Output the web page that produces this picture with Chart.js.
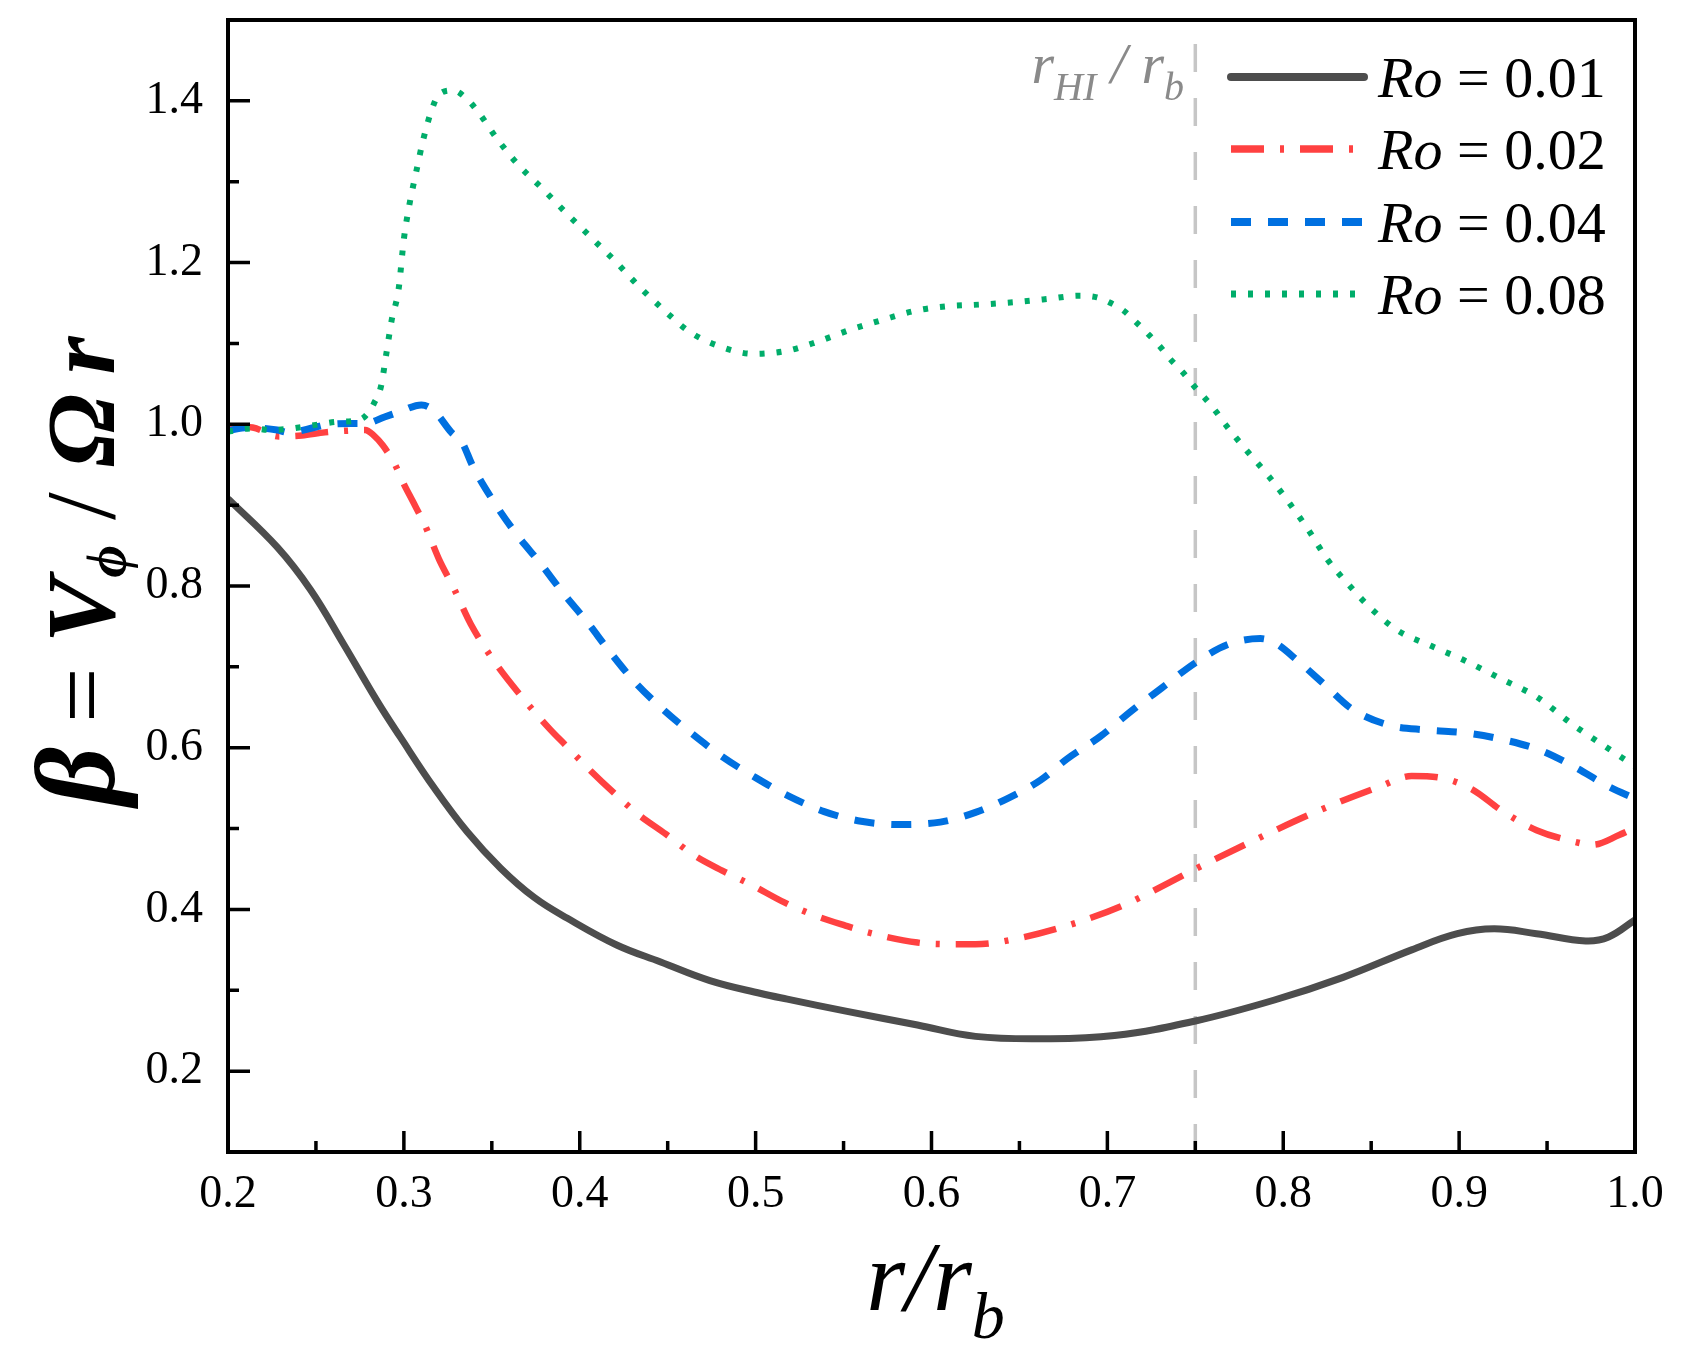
<!DOCTYPE html>
<html>
<head>
<meta charset="utf-8">
<script src="https://cdn.jsdelivr.net/npm/chart.js@4.4.1/dist/chart.umd.min.js"></script>
<style>
  html, body { margin: 0; padding: 0; background: #fff; }
  #wrap { width: 1683px; height: 1359px; }
</style>
</head>
<body>
<div id="wrap"><canvas id="beta"></canvas></div>
<script>
// r / r_b and beta, one pair of arrays per Rossby number
const r001 = [0.2, 0.228, 0.247, 0.266, 0.285, 0.298, 0.317, 0.336, 0.355, 0.374, 0.393, 0.421, 0.446, 0.474, 0.503, 0.518, 0.552, 0.592, 0.625, 0.664, 0.704, 0.75, 0.795, 0.834, 0.873, 0.899, 0.92, 0.944, 0.972, 0.985, 1.0];
const beta001 = [0.908, 0.848, 0.795, 0.727, 0.657, 0.613, 0.551, 0.496, 0.451, 0.415, 0.389, 0.356, 0.335, 0.312, 0.296, 0.289, 0.274, 0.257, 0.243, 0.240, 0.244, 0.262, 0.288, 0.316, 0.350, 0.370, 0.376, 0.370, 0.361, 0.366, 0.387];

const r002 = [0.2, 0.214, 0.229, 0.242, 0.255, 0.267, 0.278, 0.283, 0.288, 0.295, 0.3, 0.305, 0.312, 0.32, 0.328, 0.338, 0.351, 0.367, 0.383, 0.392, 0.405, 0.419, 0.433, 0.449, 0.465, 0.481, 0.498, 0.516, 0.533, 0.551, 0.565, 0.592, 0.612, 0.625, 0.651, 0.683, 0.711, 0.75, 0.782, 0.821, 0.855, 0.873, 0.889, 0.907, 0.925, 0.944, 0.965, 0.976, 0.991, 1.0];
const beta002 = [0.998, 0.996, 0.985, 0.986, 0.990, 0.992, 0.993, 0.986, 0.974, 0.950, 0.926, 0.905, 0.875, 0.833, 0.799, 0.753, 0.708, 0.663, 0.623, 0.603, 0.574, 0.545, 0.518, 0.493, 0.467, 0.448, 0.430, 0.409, 0.393, 0.380, 0.371, 0.359, 0.357, 0.357, 0.365, 0.384, 0.407, 0.450, 0.484, 0.523, 0.552, 0.565, 0.563, 0.549, 0.521, 0.498, 0.484, 0.480, 0.492, 0.501];

const r004 = [0.2, 0.211, 0.228, 0.234, 0.249, 0.255, 0.27, 0.278, 0.289, 0.297, 0.31, 0.317, 0.327, 0.333, 0.339, 0.35, 0.363, 0.378, 0.391, 0.404, 0.417, 0.431, 0.447, 0.464, 0.481, 0.5, 0.518, 0.539, 0.56, 0.581, 0.605, 0.625, 0.644, 0.662, 0.677, 0.696, 0.714, 0.731, 0.75, 0.769, 0.787, 0.795, 0.808, 0.824, 0.839, 0.86, 0.881, 0.905, 0.925, 0.946, 0.965, 0.985, 1.0];
const beta004 = [0.992, 0.996, 0.993, 0.990, 0.996, 0.999, 1.001, 1.001, 1.009, 1.015, 1.024, 1.017, 0.990, 0.978, 0.949, 0.908, 0.867, 0.827, 0.790, 0.756, 0.719, 0.682, 0.648, 0.617, 0.589, 0.563, 0.541, 0.521, 0.509, 0.505, 0.508, 0.520, 0.538, 0.560, 0.586, 0.614, 0.646, 0.674, 0.705, 0.728, 0.735, 0.730, 0.708, 0.677, 0.648, 0.628, 0.622, 0.618, 0.610, 0.597, 0.577, 0.552, 0.537];

const r008 = [0.2, 0.214, 0.224, 0.233, 0.243, 0.252, 0.262, 0.271, 0.278, 0.283, 0.287, 0.29, 0.293, 0.297, 0.3, 0.303, 0.307, 0.311, 0.316, 0.32, 0.328, 0.335, 0.342, 0.353, 0.365, 0.379, 0.392, 0.406, 0.42, 0.433, 0.447, 0.462, 0.48, 0.499, 0.518, 0.535, 0.554, 0.572, 0.59, 0.609, 0.627, 0.647, 0.666, 0.684, 0.694, 0.701, 0.709, 0.716, 0.723, 0.73, 0.736, 0.743, 0.749, 0.756, 0.762, 0.767, 0.779, 0.792, 0.804, 0.815, 0.825, 0.837, 0.85, 0.865, 0.884, 0.902, 0.925, 0.944, 0.965, 0.982, 1.0];
const beta008 = [0.991, 0.995, 0.993, 0.994, 0.997, 1.000, 1.003, 1.004, 1.010, 1.026, 1.047, 1.087, 1.128, 1.167, 1.229, 1.270, 1.312, 1.352, 1.390, 1.408, 1.413, 1.404, 1.387, 1.353, 1.321, 1.291, 1.262, 1.232, 1.202, 1.172, 1.143, 1.115, 1.096, 1.087, 1.091, 1.102, 1.117, 1.129, 1.140, 1.146, 1.148, 1.151, 1.155, 1.159, 1.157, 1.151, 1.141, 1.127, 1.112, 1.096, 1.080, 1.064, 1.048, 1.031, 1.015, 1.000, 0.968, 0.935, 0.901, 0.867, 0.833, 0.802, 0.772, 0.745, 0.726, 0.709, 0.684, 0.663, 0.628, 0.603, 0.577];

const roLabels = ["0.01", "0.02", "0.04", "0.08"];
const rHI = 0.75;

const xRange = [0.2, 1.0];
const yRange = [0.1, 1.5];
const xTickVals = [0.2, 0.3, 0.4, 0.5, 0.6, 0.7, 0.8, 0.9, 1.0];
const xMinorVals = [0.25, 0.35, 0.45, 0.55, 0.65, 0.75, 0.85, 0.95];
const yTickVals = [0.2, 0.4, 0.6, 0.8, 1.0, 1.2, 1.4];
const yMinorVals = [0.3, 0.5, 0.7, 0.9, 1.1, 1.3];

const SERIF = '"Liberation Serif", "Times New Roman", serif';

const pts = (xs, ys) => xs.map((x, i) => ({ x: x, y: ys[i] }));

const curve = (label, xs, ys, color, width, dash, order, mode) => ({
  label: label,
  data: pts(xs, ys),
  borderColor: color,
  borderWidth: width,
  borderDash: dash,
  pointRadius: 0,
  fill: false,
  cubicInterpolationMode: mode || "monotone",
  tension: 0.4,
  order: order,
});

// inside ticks, frame, titles and the legend are drawn by hand
const decor = {
  id: "decor",
  afterDatasetsDraw(chart) {
    const { ctx, chartArea: a, scales: { x, y } } = chart;
    ctx.save();
    ctx.setLineDash([]);
    ctx.strokeStyle = "#000";
    ctx.lineWidth = 3.5;
    ctx.beginPath();
    xTickVals.concat(xMinorVals).forEach((v) => {
      const len = xTickVals.includes(v) ? 21 : 11;
      const px = x.getPixelForValue(v);
      ctx.moveTo(px, a.bottom);
      ctx.lineTo(px, a.bottom - len);
    });
    yTickVals.concat(yMinorVals).forEach((v) => {
      const len = yTickVals.includes(v) ? 22 : 11;
      const py = y.getPixelForValue(v);
      ctx.moveTo(a.left, py);
      ctx.lineTo(a.left + len, py);
    });
    ctx.stroke();
    ctx.lineWidth = 4;
    ctx.strokeRect(a.left, a.top, a.right - a.left, a.bottom - a.top);
    ctx.restore();
  },
  afterDraw(chart) {
    const { ctx, chartArea: a } = chart;

    // draws a list of [text, font, dy] pieces starting at (x0, y0)
    const runs = (list, x0, y0, align) => {
      let w = 0;
      list.forEach((p) => { ctx.font = p[1]; w += ctx.measureText(p[0]).width; });
      let cx = align === "center" ? x0 - w / 2 : align === "right" ? x0 - w : x0;
      list.forEach((p) => {
        ctx.font = p[1];
        ctx.fillText(p[0], cx, y0 + (p[2] || 0));
        cx += ctx.measureText(p[0]).width;
      });
    };

    ctx.save();
    ctx.textBaseline = "alphabetic";
    ctx.fillStyle = "#000";

    // x title  r/r_b
    runs([
      ["r/r", "italic 100px " + SERIF],
      ["b", "italic 66px " + SERIF, 28],
    ], (a.left + a.right) / 2 + 4, 1310, "center");

    // y title  beta = V_phi / Omega r
    ctx.save();
    ctx.translate(114, 571);
    ctx.rotate(-Math.PI / 2);
    const bi = "bold italic 98px " + SERIF;
    runs([
      ["\u03B2", "bold italic 114px " + SERIF],
      [" = ", "98px " + SERIF],
      ["V", bi],
      ["\u03D5", "bold italic 56px " + SERIF, 12],
      [" / ", "100px " + SERIF],
      ["\u03A9", bi],
      ["\u2009r", bi],
    ], 0, 0, "center");
    ctx.restore();

    // r_HI / r_b marker label
    ctx.fillStyle = "#8a8a8a";
    runs([
      ["r", "italic 58px " + SERIF],
      ["HI", "italic 40px " + SERIF, 17],
      [" / ", "italic 58px " + SERIF],
      ["r", "italic 58px " + SERIF],
      ["b", "italic 40px " + SERIF, 17],
    ], 1184, 83, "right");

    // legend
    const rowY = [77, 149, 222, 294];
    chart.data.datasets.slice(0, 4).forEach((ds, i) => {
      ctx.save();
      ctx.strokeStyle = ds.borderColor;
      ctx.lineWidth = ds.borderWidth + 1;
      ctx.setLineDash(ds.borderDash);
      ctx.lineCap = i === 0 ? "round" : "butt";
      ctx.beginPath();
      ctx.moveTo(1231, rowY[i]);
      ctx.lineTo(1364, rowY[i]);
      ctx.stroke();
      ctx.restore();
      ctx.fillStyle = "#000";
      runs([
        ["Ro", "italic 58px " + SERIF],
        [" = " + roLabels[i], "58px " + SERIF],
      ], 1378, rowY[i] + 20, "left");
    });
    ctx.restore();
  },
};

const ctx = document.getElementById("beta").getContext("2d");
const betaChart = new Chart(ctx, {
  type: "line",
  data: {
    datasets: [
      curve("Ro = 0.01", r001, beta001, "#4d4d4d", 7, [], 3, "default"),
      curve("Ro = 0.02", r002, beta002, "#ff4141", 6.5, [33, 16, 4, 16], 2),
      curve("Ro = 0.04", r004, beta004, "#0070e0", 7, [20, 17], 1),
      curve("Ro = 0.08", r008, beta008, "#00ad6a", 6, [5, 12], 0),
      {
        label: "r_HI / r_b",
        data: [{ x: rHI, y: yRange[0] }, { x: rHI, y: yRange[1] - 0.02 }],
        borderColor: "#c6c6c6",
        borderWidth: 3.5,
        borderDash: [28, 26],
        pointRadius: 0,
        order: 4,
      },
    ],
  },
  options: {
    responsive: true,
    maintainAspectRatio: false,
    animation: false,
    layout: { padding: { left: 0, right: 48, top: 20, bottom: 0 } },
    plugins: {
      legend: { display: false },
      tooltip: { enabled: false },
    },
    scales: {
      x: {
        type: "linear",
        min: xRange[0],
        max: xRange[1],
        afterBuildTicks: (s) => { s.ticks = xTickVals.map((v) => ({ value: v })); },
        afterFit: (s) => { s.height = 207; s.paddingLeft = 0; s.paddingRight = 0; },
        grid: { display: false, drawTicks: false },
        border: { display: false },
        ticks: {
          padding: 15,
          color: "#000",
          font: { family: SERIF, size: 46 },
          callback: (v) => v.toFixed(1),
        },
      },
      y: {
        type: "linear",
        min: yRange[0],
        max: yRange[1],
        afterBuildTicks: (s) => { s.ticks = yTickVals.map((v) => ({ value: v })); },
        afterFit: (s) => { s.width = 228; s.paddingTop = 0; s.paddingBottom = 0; },
        grid: { display: false, drawTicks: false },
        border: { display: false },
        ticks: {
          padding: 25,
          color: "#000",
          font: { family: SERIF, size: 46 },
          callback: (v) => v.toFixed(1),
        },
      },
    },
  },
  plugins: [decor],
});
</script>
</body>
</html>
